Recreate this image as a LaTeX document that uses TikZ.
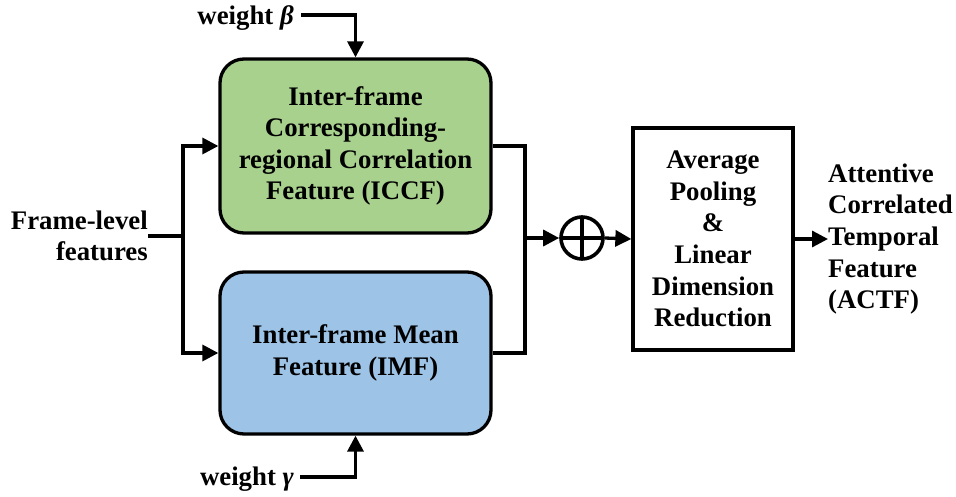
\documentclass[tikz,border=0pt]{standalone}
\usepackage{fontspec}
\setmainfont{Liberation Serif}
\usetikzlibrary{arrows.meta}
\definecolor{iccfgreen}{HTML}{A9D18E}
\definecolor{imfblue}{HTML}{9DC3E6}
\begin{document}
\begin{tikzpicture}[x=1pt,y=-1pt,
  every node/.style={font=\bfseries\fontsize{26.8}{31.6}\selectfont},
  featbox/.style={draw, line width=3.3pt, rounded corners=24pt, align=center,
    minimum width=271pt, inner sep=0pt},
  procbox/.style={draw, line width=3.3pt, fill=white, align=center,
    minimum width=160pt, minimum height=222pt, inner sep=0pt},
  lbl/.style={inner sep=0pt},
  conn/.style={line width=3.3pt},
  arr/.style={conn, -{Triangle[length=16pt,width=16pt]}},
  sumnode/.style={circle, draw, line width=3.6pt, minimum size=42pt, inner sep=0pt,
    path picture={\draw[line width=3.6pt]
      (path picture bounding box.north) -- (path picture bounding box.south)
      (path picture bounding box.west) -- (path picture bounding box.east);}}
]
\useasboundingbox (0,0) rectangle (956,497);

% feature branches
\node[featbox, fill=iccfgreen, minimum height=174pt] (iccf) at (355.5,146)
  {Inter-frame\\Corresponding-\\regional Correlation\\Feature (ICCF)};
\node[featbox, fill=imfblue, minimum height=162pt] (imf) at (355.5,353)
  {Inter-frame Mean\\Feature (IMF)};

% fusion and reduction
\node[sumnode] (sum) at (582,238) {};
\node[procbox] (red) at (713,239)
  {Average\\Pooling\\\&\\Linear\\Dimension\\Reduction};

% labels
\node[lbl, anchor=east, align=right] (fl) at (148,236) {Frame-level\\features};
\node[lbl, anchor=west, align=left] (actf) at (828,239)
  {Attentive\\Correlated\\Temporal\\Feature\\(ACTF)};
\node[lbl, anchor=east] (wb) at (294,18) {weight \textit{β}};
\node[lbl, anchor=east] (wg) at (294,479) {weight \textit{γ}};

% input split
\coordinate (split) at (183,236);
\draw[conn] (fl.east |- split) -- (split);
\draw[arr] (split) |- (iccf.west);
\draw[arr] (split) |- (imf.west);

% weights
\coordinate (wbturn) at (355.5,15);
\coordinate (wgturn) at (355.5,477);
\draw[arr] (wb.east |- wbturn) ++(7,0) -- (wbturn) -- (iccf.north);
\draw[arr] (wg.east |- wgturn) ++(6,0) -- (wgturn) -- (imf.south);

% merge into the sum
\coordinate (merge) at (525,238);
\draw[conn] (iccf.east) -| (merge);
\draw[conn] (imf.east) -| (merge);
\draw[arr] (merge) -- (sum.west);
\draw[arr] (sum.east) -- (red.west);
\draw[arr] (red.east) -- (actf.west |- red.east);
\end{tikzpicture}
\end{document}
